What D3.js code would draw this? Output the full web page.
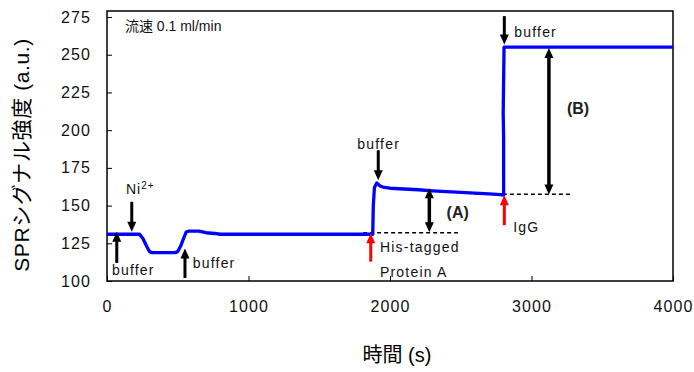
<!DOCTYPE html>
<html>
<head>
<meta charset="utf-8">
<script src="https://cdn.jsdelivr.net/npm/d3@7"></script>
<style>
  body { margin: 0; background: #fff; }
  svg text { font-family: "Liberation Sans", Arial, "Noto Sans CJK JP", sans-serif; }
</style>
</head>
<body>
<svg id="chart"></svg>
<script>
// SPR sensorgram: time (s) vs signal (a.u.)
const times = [0, 200, 230, 255, 280, 300, 320, 480, 500, 520, 540, 560, 575, 650, 700, 760, 800, 1000, 1400, 1800, 1878, 1882, 1890, 1906, 1930, 1960, 2000, 2100, 2200, 2300, 2400, 2500, 2600, 2700, 2780, 2803, 2803, 2800, 2806, 2830, 4000];
const signal = [131, 131, 131, 128, 123, 119.5, 118.8, 118.8, 119.5, 123, 128, 132.5, 133, 133, 132, 131.5, 131, 131, 131, 131, 131, 150, 162, 165, 163, 162, 161.5, 161, 160.5, 159.8, 159.3, 158.8, 158.3, 157.8, 157.2, 157, 195, 211, 255, 255, 255];

const xTicks = [0, 1000, 2000, 3000, 4000];
const yTicks = [100, 125, 150, 175, 200, 225, 250, 275];

// arrows: time, start value, tip value, colour
const arrows = [
  [69, 112, 132.6, "#000"],
  [175, 152.5, 132.6, "#000"],
  [551, 102, 121.6, "#000"],
  [1917, 186.7, 166.8, "#000"],
  [1864, 112.8, 131.6, "#f00"],
  [2808, 137, 156.9, "#f00"],
  [2808, 275.6, 256.8, "#000"]
];
// double arrows: time, low, high
const doubleArrows = [
  [2278, 132.4, 161.5],
  [3123, 157.4, 254.4]
];
// dashed reference lines: from, to, value
const refLines = [
  [1810, 2480, 132],
  [2600, 3277, 157.5]
];
// labels: text, time, value
const labels = [
  ["buffer", 35, 104],
  ["buffer", 606, 108.6],
  ["buffer", 1769, 187.8],
  ["His-tagged", 1929, 119],
  ["Protein A", 1929, 102.4],
  ["IgG", 2871, 132.6],
  ["buffer", 2878, 261.7]
];
const boldLabels = [
  ["(A)", 2400, 141.5],
  ["(B)", 3250, 210.5]
];

const width = 694, height = 372;
const margin = { top: 11, right: 21, bottom: 91, left: 107 };

const svg = d3.select("#chart").attr("width", width).attr("height", height);

const x = d3.scaleLinear().domain([0, 4000]).range([margin.left, width - margin.right]);
const y = d3.scaleLinear().domain([100, 279]).range([height - margin.bottom, margin.top]);

// axes with inward ticks
const xAxis = svg.append("g")
  .attr("transform", `translate(0,${height - margin.bottom})`)
  .call(d3.axisBottom(x).tickValues(xTicks).tickFormat(d3.format("d"))
    .tickSizeInner(-5).tickSizeOuter(0).tickPadding(20));
const yAxis = svg.append("g")
  .attr("transform", `translate(${margin.left},0)`)
  .call(d3.axisLeft(y).tickValues(yTicks).tickFormat(d3.format("d"))
    .tickSizeInner(-5).tickSizeOuter(0).tickPadding(16));

[xAxis, yAxis].forEach(a => {
  a.select(".domain").remove();
  a.selectAll("line").attr("stroke", "#000").attr("stroke-width", 1);
  a.selectAll("text")
    .attr("font-size", 16)
    .attr("letter-spacing", "1.1px")
    .attr("fill", "#111")
    .attr("font-family", "'Liberation Sans', Arial, sans-serif");
});

// frame
svg.append("rect")
  .attr("x", x(0)).attr("y", margin.top)
  .attr("width", x(4000) - x(0))
  .attr("height", height - margin.bottom - margin.top)
  .attr("fill", "none").attr("stroke", "#000").attr("stroke-width", 1.5);

// axis titles
svg.append("text")
  .attr("transform", `translate(29,${(margin.top + height - margin.bottom) / 2 + 9}) rotate(-90)`)
  .attr("text-anchor", "middle")
  .attr("font-size", 21)
  .attr("letter-spacing", "0.6px")
  .text("SPRシグナル強度 (a.u.)");

svg.append("text")
  .attr("x", 397).attr("y", 362)
  .attr("text-anchor", "middle")
  .attr("font-size", 20)
  .text("時間 (s)");

svg.append("text")
  .attr("x", x(127)).attr("y", y(266))
  .attr("font-size", 14)
  .attr("fill", "#111")
  .text("流速 0.1 ml/min");

// dashed lines
svg.selectAll("line.ref").data(refLines).join("line")
  .attr("class", "ref")
  .attr("x1", d => x(d[0])).attr("x2", d => x(d[1]))
  .attr("y1", d => y(d[2])).attr("y2", d => y(d[2]))
  .attr("stroke", "#000").attr("stroke-width", 1.3)
  .attr("stroke-dasharray", "4,3");

// signal line
const line = d3.line().x((d, i) => x(times[i])).y(d => y(d));
svg.append("path")
  .datum(signal)
  .attr("d", line)
  .attr("fill", "none")
  .attr("stroke", "#0000ff")
  .attr("stroke-width", 3.3)
  .attr("stroke-linejoin", "round");

// arrows
function arrowHead(px, py, dir, color) {
  // dir = -1 points up, 1 points down
  const hw = 4.5, hl = 10;
  svg.append("path")
    .attr("d", `M${px},${py} L${px - hw},${py - dir * hl} L${px + hw},${py - dir * hl} Z`)
    .attr("fill", color);
}
arrows.forEach(([t, v0, v1, c]) => {
  const px = x(t), y0 = y(v0), y1 = y(v1);
  const dir = y1 > y0 ? 1 : -1;
  svg.append("line")
    .attr("x1", px).attr("x2", px)
    .attr("y1", y0).attr("y2", y1 - dir * 8)
    .attr("stroke", c).attr("stroke-width", 3);
  arrowHead(px, y1, dir, c);
});
doubleArrows.forEach(([t, lo, hi]) => {
  const px = x(t), yl = y(lo), yh = y(hi);
  svg.append("line")
    .attr("x1", px).attr("x2", px)
    .attr("y1", yh + 8).attr("y2", yl - 8)
    .attr("stroke", "#000").attr("stroke-width", 3.5);
  arrowHead(px, yh, -1, "#000");
  arrowHead(px, yl, 1, "#000");
});

// labels
svg.selectAll("text.lab").data(labels).join("text")
  .attr("class", "lab")
  .attr("x", d => x(d[1])).attr("y", d => y(d[2]))
  .attr("font-size", 14)
  .attr("letter-spacing", "1.2px")
  .attr("fill", "#111")
  .text(d => d[0]);

const ni = svg.append("text")
  .attr("x", x(134)).attr("y", y(158))
  .attr("font-size", 14)
  .attr("letter-spacing", "1px")
  .attr("fill", "#111");
ni.append("tspan").text("Ni");
ni.append("tspan").attr("font-size", 10).attr("dy", -5).text("2+");

svg.selectAll("text.bold").data(boldLabels).join("text")
  .attr("class", "bold")
  .attr("x", d => x(d[1])).attr("y", d => y(d[2]))
  .attr("font-size", 16)
  .attr("font-weight", "bold")
  .attr("fill", "#222")
  .text(d => d[0]);
</script>
</body>
</html>
